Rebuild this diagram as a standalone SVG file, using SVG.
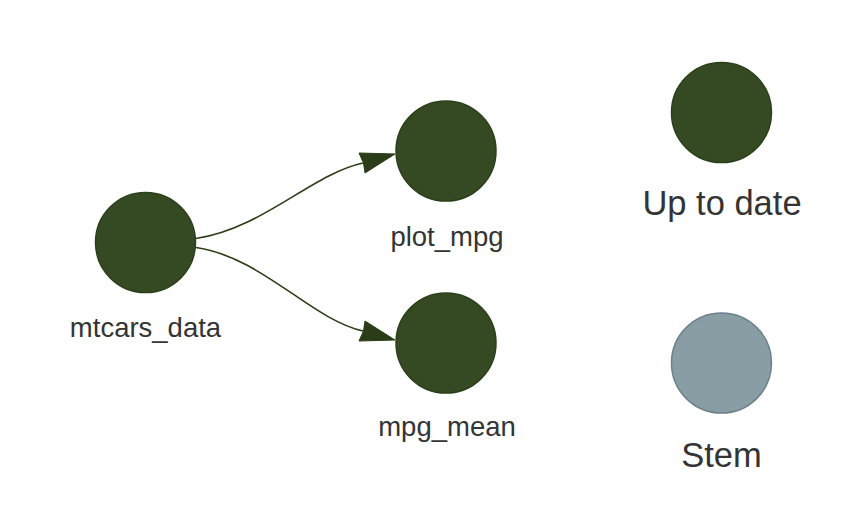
<svg xmlns="http://www.w3.org/2000/svg" width="846" height="518" viewBox="0 0 846 518">
<style>
  .up { fill: #354A22; stroke: #2C3F1B; stroke-width: 1.5; }
  .stem { fill: #899DA5; stroke: #6D8089; stroke-width: 1.5; }
  .lbl { font-family: "Liberation Sans", Arial, sans-serif; font-size: 27.5px; fill: #343434; text-anchor: middle; }
  .leg { font-family: "Liberation Sans", Arial, sans-serif; font-size: 34.5px; fill: #343434; text-anchor: middle; }
  .edge { fill: none; stroke: #2B3D18; stroke-width: 1.6; }
  .head { fill: #2B3D18; stroke: #2B3D18; stroke-width: 1; stroke-linejoin: round; }
</style>
<rect width="846" height="518" fill="#ffffff"/>
<g id="connectors">
  <path class="edge" d="M196,238.5 C262,229 312,174 363,163"/>
  <path class="head" d="M395,154 L359,153 L363.5,163 L365,173 Z"/>
  <path class="edge" d="M196,247.5 C262,257 312,320 363,331"/>
  <path class="head" d="M395,340 L359,341 L363.5,331 L365,321 Z"/>
</g>
<g id="mtcars_data">
  <circle class="up" cx="145.5" cy="242.5" r="50"/>
  <text class="lbl" x="145.5" y="337">mtcars_data</text>
</g>
<g id="plot_mpg">
  <circle class="up" cx="446" cy="151" r="50"/>
  <text class="lbl" x="447" y="246">plot_mpg</text>
</g>
<g id="mpg_mean">
  <circle class="up" cx="446" cy="343" r="50"/>
  <text class="lbl" x="447" y="436">mpg_mean</text>
</g>
<g id="legend_up_to_date">
  <circle class="up" cx="721.5" cy="112.5" r="50"/>
  <text class="leg" x="722" y="215">Up to date</text>
</g>
<g id="legend_stem">
  <circle class="stem" cx="721.5" cy="363" r="50"/>
  <text class="leg" x="721.5" y="467">Stem</text>
</g>
</svg>
